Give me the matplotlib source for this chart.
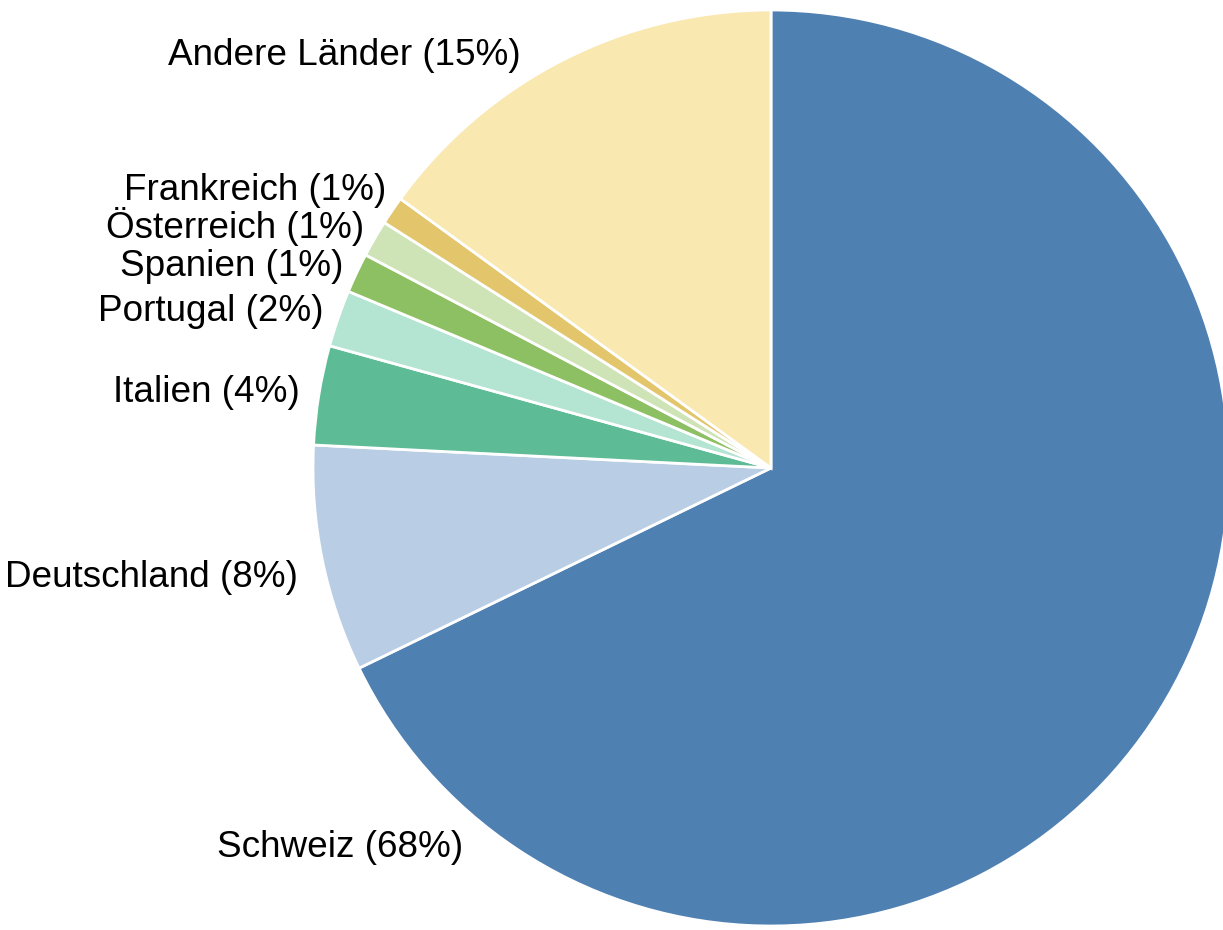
import matplotlib
matplotlib.use("Agg")
import matplotlib.pyplot as plt

countries = ["Schweiz", "Deutschland", "Italien", "Portugal", "Spanien",
             "Österreich", "Frankreich", "Andere Länder"]
values = [67.8, 8.0, 3.5, 2.0, 1.4, 1.3, 1.0, 15.0]
label_pct = ["68%", "8%", "4%", "2%", "1%", "1%", "1%", "15%"]
colors = ["#4F80B2", "#B9CEE5", "#5DBC96", "#B4E4D2", "#8DBF63",
          "#CEE4B6", "#E3C66B", "#F9E8B0"]

# label anchor positions (right edge, baseline) in pie-radius units
label_x = [-0.672, -1.033, -1.028, -0.978, -0.934, -0.888, -0.840, -0.546]
label_y = [-0.849, -0.260, 0.144, 0.321, 0.419, 0.502, 0.585, 0.880]

plt.rcParams['font.family'] = ['Liberation Sans', 'DejaVu Sans']

fig = plt.figure(figsize=(12.23, 9.30), dpi=100)
ax = fig.add_axes([0, 0, 1, 1])
ax.pie(values, colors=colors, startangle=90, counterclock=False,
       radius=1.0, wedgeprops=dict(edgecolor="white", linewidth=2.0))

for name, pct, x, y in zip(countries, label_pct, label_x, label_y):
    ax.text(x, y, f"{name} ({pct})", ha="right", va="baseline",
            fontsize=26.6, color="black")

ax.set_xlim(-771 / 458, (1223 - 771) / 458)
ax.set_ylim(-(930 - 468) / 458, 468 / 458)
ax.set_aspect("auto")
ax.axis("off")

fig.savefig("out.png", dpi=100)
